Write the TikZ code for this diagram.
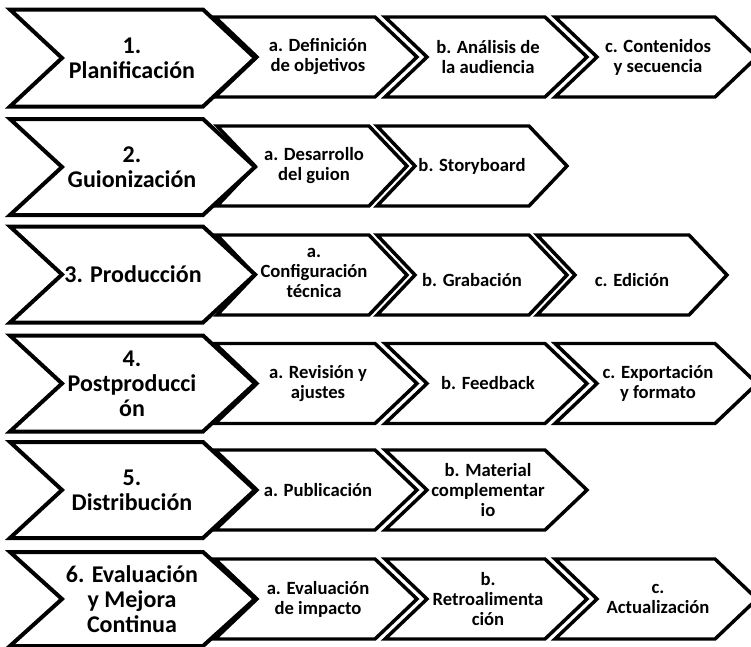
\documentclass[tikz,border=0pt]{standalone}
\usepackage{fontspec}
\setmainfont{Carlito}
\newcommand\chevshape[6]{\draw[#6] (#1,{#2-#5/2}) -- ({#1+#3-#4},{#2-#5/2}) -- ({#1+#3},#2) -- ({#1+#3-#4},{#2+#5/2}) -- (#1,{#2+#5/2}) -- ({#1+#4},#2) -- cycle;}
\tikzset{
  mainchev/.style={draw=black, fill=white, line width=3pt, line join=miter},
  subchev/.style={draw=black, fill=white, line width=2.6pt, line join=miter},
  maintxt/.style={font=\bfseries\fontsize{18}{18.8}\selectfont, align=center, inner sep=0pt},
  subtxt/.style={font=\bfseries\fontsize{14}{15}\selectfont, align=center, inner sep=0pt},
}
\begin{document}
\begin{tikzpicture}[x=0.75pt, y=-0.75pt]
\path[use as bounding box] (0,0) rectangle (751,647);
\clip (0,0) rectangle (751,647);
% ---------- Row 1
\chevshape{555}{57}{202}{42}{80}{subchev}
\chevshape{385}{57}{202}{42}{80}{subchev}
\chevshape{215}{57}{202}{42}{80}{subchev}
\chevshape{10}{58}{245}{52}{97}{mainchev}
\node[maintxt] (m1) at (132,58) {1.\\Planificación};
\node[subtxt] (a1) at (318,57) {a. Definición\\de objetivos};
\node[subtxt] (b1) at (488,57) {b. Análisis de\\la audiencia};
\node[subtxt] (c1) at (658,57) {c. Contenidos\\y secuencia};
% ---------- Row 2
\chevshape{377}{166}{190}{38}{80}{subchev}
\chevshape{217}{166}{190}{38}{80}{subchev}
\chevshape{10}{167}{245}{52}{96}{mainchev}
\node[maintxt] (m2) at (132,167) {2.\\Guionización};
\node[subtxt] (a2) at (314,166) {a. Desarrollo\\del guion};
\node[subtxt] (b2) at (472,166) {b. Storyboard};
% ---------- Row 3
\chevshape{537}{275}{190}{38}{80}{subchev}
\chevshape{377}{275}{190}{38}{80}{subchev}
\chevshape{217}{275}{190}{38}{80}{subchev}
\chevshape{10}{274.5}{245}{52}{96}{mainchev}
\node[maintxt] (m3) at (133,274.5) {3. Producción};
\node[subtxt] (a3) at (314,273) {a.\\Configuración\\técnica};
\node[subtxt] (b3) at (472,280) {b. Grabación};
\node[subtxt] (c3) at (632,280) {c. Edición};
% ---------- Row 4
\chevshape{555}{383.5}{202}{42}{80}{subchev}
\chevshape{385}{383.5}{202}{42}{80}{subchev}
\chevshape{215}{383.5}{202}{42}{80}{subchev}
\chevshape{10}{383.5}{245}{52}{96}{mainchev}
\node[maintxt] (m4) at (132,383.5) {4.\\Postproducci\\ón};
\node[subtxt] (a4) at (318,383.5) {a. Revisión y\\ajustes};
\node[subtxt] (b4) at (488,383.5) {b. Feedback};
\node[subtxt] (c4) at (658,383.5) {c. Exportación\\y formato};
% ---------- Row 5
\chevshape{385}{490}{202}{42}{80}{subchev}
\chevshape{215}{490}{202}{42}{80}{subchev}
\chevshape{10}{490}{245}{52}{96}{mainchev}
\node[maintxt] (m5) at (132,490) {5.\\Distribución};
\node[subtxt] (a5) at (318,490) {a. Publicación};
\node[subtxt] (b5) at (488,490) {b. Material\\complementar\\io};
% ---------- Row 6
\chevshape{555}{599}{202}{42}{80}{subchev}
\chevshape{385}{599}{202}{42}{80}{subchev}
\chevshape{215}{599}{202}{42}{80}{subchev}
\chevshape{10}{599}{245}{52}{94}{mainchev}
\node[maintxt] (m6) at (132,599) {6. Evaluación\\y Mejora\\Continua};
\node[subtxt] (a6) at (318,599) {a. Evaluación\\de impacto};
\node[subtxt] (b6) at (488,599) {b.\\Retroalimenta\\ción};
\node[subtxt] (c6) at (658,599) {c.\\Actualización};
\end{tikzpicture}
\end{document}
